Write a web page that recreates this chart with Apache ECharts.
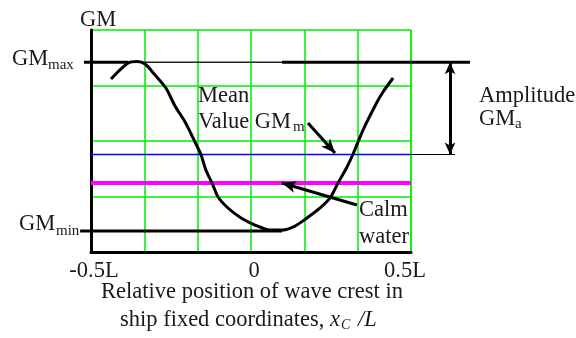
<!DOCTYPE html>
<html>
<head>
<meta charset="utf-8">
<script src="https://cdn.jsdelivr.net/npm/echarts@6/dist/echarts.min.js"></script>
<style>html,body{margin:0;padding:0;background:#fff}#c{width:576px;height:338px}</style>
</head>
<body>
<div id="c"></div>
<script>
// ---- data (x in units of L, y in arbitrary GM units) ----
const xTickLabels = ['-0.5L', '0', '0.5L'];
const curveX = [-0.4375, -0.384, -0.356, -0.331, -0.300, -0.266, -0.2375, -0.206, -0.175, -0.156, -0.141, -0.119, -0.103, -0.072, -0.031, 0.0125, 0.059, 0.097, 0.1375, 0.175, 0.216, 0.247, 0.272, 0.300, 0.319, 0.350, 0.394, 0.4125, 0.444];
const curveY = [3.117, 3.405, 3.432, 3.387, 3.189, 2.955, 2.631, 2.342, 1.982, 1.748, 1.477, 1.207, 0.991, 0.793, 0.613, 0.486, 0.396, 0.396, 0.468, 0.613, 0.793, 0.973, 1.243, 1.532, 1.766, 2.198, 2.703, 2.883, 3.135];
const gmMax = 3.42;
const gmMin = 0.38;
const gmMean = 1.757;
const gmCalm = 1.243;
const gmMaxSpan = [-0.522, 0.684];
const gmMaxThickLeft = [-0.522, -0.384];
const gmMaxThickRight = [0.097, 0.684];
const gmMinSpan = [-0.534, 0.097];
const meanSpan = [-0.5, 0.5];
const meanExtSpan = [0.5, 0.6375];
const calmSpan = [-0.5, 0.5];
const amplitudeX = 0.622;
const meanArrow = [[0.178, 2.324], [0.2625, 1.784]];
const calmArrow = [[0.331, 0.847], [0.097, 1.243]];

const W = 576, H = 338;
const GRID = { left: 91, right: 165, top: 30, bottom: 86 };
const X_MIN = -0.5, X_MAX = 0.5, Y_MIN = 0, Y_MAX = 4;
const pxPerX = (W - GRID.left - GRID.right) / (X_MAX - X_MIN);
const pxPerY = (H - GRID.top - GRID.bottom) / (Y_MAX - Y_MIN);
// overlay axes span the whole canvas with identical scale (for marks outside the plot box)
const OX_MIN = X_MIN - GRID.left / pxPerX, OX_MAX = X_MAX + GRID.right / pxPerX;
const OY_MIN = Y_MIN - GRID.bottom / pxPerY, OY_MAX = Y_MAX + GRID.top / pxPerY;

const FONT = '"Liberation Serif", "Times New Roman", serif';
const FS = 22.5;
const SUB = 15;
const TXT = '#1a1a1a';
const GREEN = '#00ee00';

function hline(span, y) { return [[span[0], y], [span[1], y]]; }
function seg(data, color, width, z) {
  return { type: 'line', xAxisIndex: 1, yAxisIndex: 1, data: data, symbol: 'none', clip: false, silent: true, z: z || 3,
    lineStyle: { color: color, width: width }, animation: false };
}

const chart = echarts.init(document.getElementById('c'), null, { renderer: 'canvas' });

function txt(text, x, y, size, opts) {
  opts = opts || {};
  return { type: 'text', x: x, y: y, silent: true, z: 100,
    style: { text: text, fill: TXT, font: (opts.italic ? 'italic ' : '') + size + 'px ' + FONT,
      textAlign: opts.align || 'left', textVerticalAlign: 'middle' } };
}

const labelPad = { a: [0, 0, 0, 6], b: [0, 0, 0, 6], c: [0, 12, 0, 0] };

chart.setOption({
  animation: false,
  grid: [
    { left: GRID.left, right: GRID.right, top: GRID.top, bottom: GRID.bottom, containLabel: false, outerBoundsMode: 'none' },
    { left: 0, right: 0, top: 0, bottom: 0, containLabel: false, outerBoundsMode: 'none', show: false }
  ],
  xAxis: [{
    type: 'value', gridIndex: 0, min: X_MIN, max: X_MAX, interval: 1 / 6,
    axisLine: { show: true, onZero: false, lineStyle: { color: '#000', width: 3 } },
    axisTick: { show: false },
    splitLine: { show: true, lineStyle: { color: GREEN, width: 1.5 } },
    axisLabel: {
      show: true, margin: 8, showMinLabel: true, showMaxLabel: true, hideOverlap: false,
      formatter: function (v) {
        let key = '';
        if (Math.abs(v + 0.5) < 1e-6) key = 'a';
        else if (Math.abs(v) < 1e-6) key = 'b';
        else if (Math.abs(v - 0.5) < 1e-6) key = 'c';
        if (!key) return '';
        const s = xTickLabels[{ a: 0, b: 1, c: 2 }[key]];
        return '{' + key + '|' + s + '}';
      },
      rich: {
        a: { fontFamily: FONT, fontSize: FS, color: TXT, padding: labelPad.a },
        b: { fontFamily: FONT, fontSize: FS, color: TXT, padding: labelPad.b },
        c: { fontFamily: FONT, fontSize: FS, color: TXT, padding: labelPad.c }
      }
    }
  }, {
    type: 'value', gridIndex: 1, min: OX_MIN, max: OX_MAX, show: false
  }],
  yAxis: [{
    type: 'value', gridIndex: 0, min: Y_MIN, max: Y_MAX, interval: 1,
    axisLine: { show: true, onZero: false, lineStyle: { color: '#000', width: 3 } },
    axisTick: { show: false }, axisLabel: { show: false },
    splitLine: { show: true, lineStyle: { color: GREEN, width: 1.5 } }
  }, {
    type: 'value', gridIndex: 1, min: OY_MIN, max: OY_MAX, show: false
  }],
  series: [
    seg(hline(gmMaxSpan, gmMax), '#222', 1.5),
    seg(hline(gmMaxThickLeft, gmMax), '#000', 3),
    seg(hline(gmMaxThickRight, gmMax), '#000', 3),
    seg(hline(gmMinSpan, gmMin), '#000', 3),
    seg(hline(meanSpan, gmMean), '#0000ff', 1.5),
    seg(hline(meanExtSpan, gmMean), '#000', 1.2),
    seg(hline(calmSpan, gmCalm), '#ff00ff', 4),
    {
      type: 'line', xAxisIndex: 0, yAxisIndex: 0,
      data: curveX.map((x, i) => [x, curveY[i]]), smooth: 0.3, symbol: 'none',
      clip: false, silent: true, z: 5, lineStyle: { color: '#000', width: 3 }
    },
    {
      type: 'line', xAxisIndex: 1, yAxisIndex: 1, data: [], clip: false, silent: true, z: 6,
      markLine: {
        silent: true, animation: false, label: { show: false },
        lineStyle: { color: '#000', width: 3, type: 'solid' },
        emphasis: { disabled: true },
        data: [
          [{ coord: [amplitudeX, gmMax], symbol: 'arrow', symbolSize: [8, 12] },
           { coord: [amplitudeX, gmMean], symbol: 'arrow', symbolSize: [8, 12] }],
          [{ coord: meanArrow[0], symbol: 'none' }, { coord: meanArrow[1], symbol: 'arrow', symbolSize: [9, 14] }],
          [{ coord: calmArrow[0], symbol: 'none' }, { coord: calmArrow[1], symbol: 'arrow', symbolSize: [9, 14] }]
        ]
      }
    }
  ],
  graphic: [
    txt('GM', 80, 20, FS),
    txt('GM', 12, 59, FS), txt('max', 48, 65, SUB),
    txt('GM', 19, 224, FS), txt('min', 56, 231, SUB),
    txt('Mean', 198, 96, FS),
    txt('Value GM', 198, 122, FS), txt('m', 293, 127, SUB),
    txt('Amplitude', 479, 96, FS),
    txt('GM', 479, 119, FS), txt('a', 515, 124, SUB),
    txt('Calm', 359, 210, FS),
    txt('water', 359, 237, FS),
    txt('Relative position of wave crest in', 252, 292, FS, { align: 'center' }),
    txt('ship fixed coordinates,', 120, 320, FS),
    txt('x', 330, 320, FS, { italic: true }),
    txt('C', 341, 325, 14, { italic: true }),
    txt('/L', 358, 320, FS, { italic: true })
  ]
});
</script>
</body>
</html>
